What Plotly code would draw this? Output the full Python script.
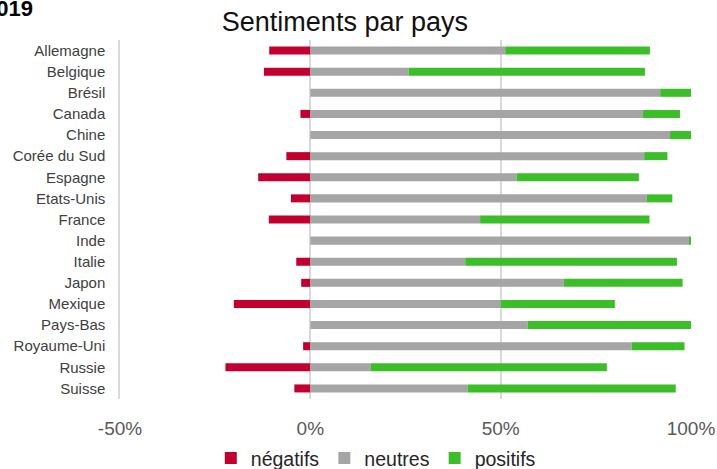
import plotly.graph_objects as go

pays = ["Allemagne", "Belgique", "Brésil", "Canada", "Chine", "Corée du Sud",
        "Espagne", "Etats-Unis", "France", "Inde", "Italie", "Japon", "Mexique",
        "Pays-Bas", "Royaume-Uni", "Russie", "Suisse"]

# values in percent
negatifs = [-10.8, -12.2, 0.0, -2.6, 0.0, -6.3, -13.7, -5.1, -10.9, 0.0,
            -3.7, -2.4, -20.1, 0.0, -1.9, -22.3, -4.2]
neutres = [51.2, 25.8, 91.9, 87.4, 94.5, 87.7, 54.2, 88.4, 44.6, 99.7,
           40.7, 66.6, 50.0, 57.1, 84.4, 15.9, 41.3]
positifs = [38.0, 62.1, 8.1, 9.7, 5.5, 6.1, 32.1, 6.7, 44.5, 0.3,
            55.6, 31.2, 30.0, 42.9, 13.9, 62.0, 54.7]

series_names = ["négatifs", "neutres", "positifs"]
series_colors = ["#C20030", "#A5A5A5", "#3BBE28"]

tick_vals = [-0.5, 0.0, 0.5, 1.0]
tick_text = ["-50%", "0%", "50%", "100%"]

FONT = "Liberation Sans, Arial, sans-serif"

fig = go.Figure()
for name, vals, col in zip(series_names, [negatifs, neutres, positifs], series_colors):
    fig.add_trace(go.Bar(
        y=pays, x=[v / 100 for v in vals], name=name, orientation="h",
        marker=dict(color=col, line=dict(width=0)),
    ))

fig.update_layout(
    width=717, height=469,
    margin=dict(l=120, r=26, t=40, b=70, autoexpand=False),
    barmode="relative", bargap=0.62,
    paper_bgcolor="white", plot_bgcolor="white",
    font=dict(family=FONT, color="#404040"),
    title=dict(text="Sentiments par pays", x=0.481, xanchor="center",
               y=1 - 22 / 469, yanchor="middle", yref="container",
               font=dict(size=27, color="#111111", family=FONT)),
    legend=dict(orientation="h", x=0.448, xanchor="center", y=-0.165, yanchor="middle",
                traceorder="normal", font=dict(size=19.5, color="#262626", family=FONT),
                itemwidth=30, bgcolor="rgba(0,0,0,0)"),
    showlegend=True,
)

fig.update_xaxes(
    range=[-0.5, 1.0], tickvals=tick_vals, ticktext=tick_text,
    showgrid=True, gridcolor="#D9D9D9", gridwidth=1.5,
    zeroline=True, zerolinecolor="#D9D9D9", zerolinewidth=1.5,
    showline=False, automargin=False,
    ticks="outside", ticklen=12, tickcolor="rgba(0,0,0,0)",
    tickfont=dict(size=19, color="#595959", family=FONT),
)
fig.update_yaxes(
    autorange="reversed", showgrid=False, zeroline=False, automargin=False,
    showline=True, linecolor="#D9D9D9", linewidth=1.5,
    ticks="outside", ticklen=10, tickcolor="rgba(0,0,0,0)",
    tickfont=dict(size=15, color="#404040", family=FONT),
)

fig.add_annotation(
    text="<b>2019</b>", xref="paper", yref="paper",
    x=(35 - 120) / 571, xanchor="right",
    y=1 + (40 - 9) / 359, yanchor="middle",
    showarrow=False, font=dict(size=22, color="#000000", family=FONT),
)

fig.write_html("out.html",
               config={"displayModeBar": False},
               post_script="document.body.style.margin='0';document.body.style.overflow='hidden';")
